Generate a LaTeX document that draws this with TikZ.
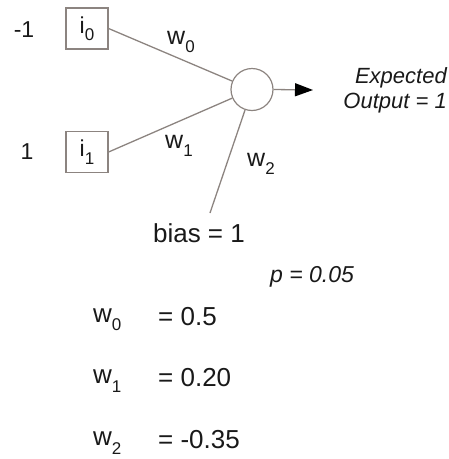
\documentclass[tikz,border=0pt]{standalone}
\usepackage{fontspec}
\setmainfont{Liberation Sans}
\usetikzlibrary{arrows.meta}
\definecolor{linegray}{RGB}{140,132,128}
\definecolor{txt}{RGB}{25,25,25}
\newcommand\sbs[1]{\raisebox{-0.32em}{\fontsize{17}{17}\selectfont #1}}
\tikzset{
  lbl/.style={text=txt, inner sep=0pt, font=\fontsize{23}{24}\selectfont},
  big/.style={text=txt, inner sep=0pt, font=\fontsize{26}{28}\selectfont},
  inbox/.style={draw=linegray, line width=1.2pt, minimum width=42pt, minimum height=41pt, inner sep=0pt, text=txt, font=\fontsize{23}{24}\selectfont},
  neuron/.style={circle, draw=linegray, line width=1.2pt, minimum size=42pt, inner sep=0pt},
  conn/.style={draw=linegray, line width=1.3pt},
}
\begin{document}
\begin{tikzpicture}[x=1pt,y=-1pt]
\useasboundingbox (0,0) rectangle (449,459);
\node[inbox] (i0) at (87,28.5) {i\sbs{0}};
\node[inbox] (i1) at (87,152) {i\sbs{1}};
\node[lbl] (m1) at (24,30) {-1};
\node[lbl] (p1) at (27,152) {1};
\node[neuron] (c) at (252,89.5) {};
\coordinate (arr) at (313,90);
\draw[conn] (i0.east) -- (c);
\draw[conn] (i1.east) -- (c);
\draw[conn, -{Triangle[length=18pt,width=13pt,color=black]}] (c.east) -- (arr);
\node[lbl, font=\fontsize{22}{24}\selectfont\itshape, align=right, anchor=east] (exp) at (447,90) {Expected\\[1pt]Output = 1};
\node[lbl, font=\fontsize{25}{26}\selectfont] (w0) at (181,42) {w\sbs{0}};
\node[lbl, font=\fontsize{25}{26}\selectfont] (w1) at (179,146) {w\sbs{1}};
\node[lbl, font=\fontsize{25}{26}\selectfont] (w2) at (261,164) {w\sbs{2}};
\node[big] (bias) at (199,233) {bias = 1};
\coordinate (bt) at (210,213);
\draw[conn] (c) -- (bt);
\node[lbl, font=\fontsize{23}{24}\selectfont\itshape] (p) at (312,277) {p = 0.05};
\node[big, anchor=west] (v0) at (93,320) {w\sbs{0}};
\node[big, anchor=west] (e0) at (158,317) {= 0.5};
\node[big, anchor=west] (v1) at (93,381) {w\sbs{1}};
\node[big, anchor=west] (e1) at (158,378) {= 0.20};
\node[big, anchor=west] (v2) at (93,443) {w\sbs{2}};
\node[big, anchor=west] (e2) at (158,440) {= -0.35};
\end{tikzpicture}
\end{document}
